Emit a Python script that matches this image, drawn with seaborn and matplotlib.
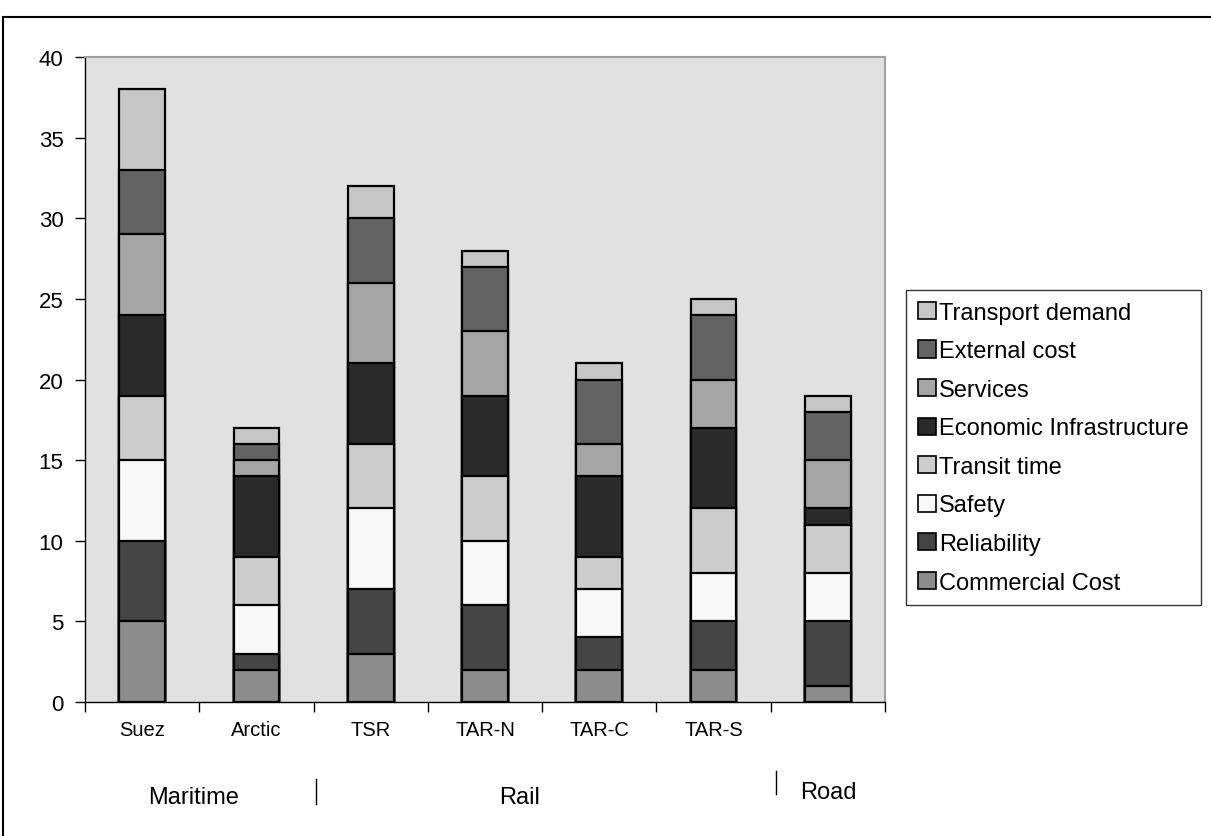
import numpy as np
import pandas as pd
import seaborn as sns
import matplotlib.pyplot as plt
from matplotlib.patches import Patch, Rectangle
from matplotlib.lines import Line2D

plt.rcParams['font.family'] = ['Liberation Sans', 'DejaVu Sans']


# DATA
routes = ['Suez', 'Arctic', 'TSR', 'TAR-N', 'TAR-C', 'TAR-S', 'Road']
route_labels = ['Suez', 'Arctic', 'TSR', 'TAR-N', 'TAR-C', 'TAR-S', '']
criteria = ['Commercial Cost', 'Reliability', 'Safety', 'Transit time',
            'Economic Infrastructure', 'Services', 'External cost', 'Transport demand']

commercial_cost = [5, 2, 3, 2, 2, 2, 1]
reliability = [5, 1, 4, 4, 2, 3, 4]
safety = [5, 3, 5, 4, 3, 3, 3]
transit_time = [4, 3, 4, 4, 2, 4, 3]
economic_infra = [5, 5, 5, 5, 5, 5, 1]
services = [5, 1, 5, 4, 2, 3, 3]
external_cost = [4, 1, 4, 4, 4, 4, 3]
transport_demand = [5, 1, 2, 1, 1, 1, 1]

groups = ['Maritime', 'Rail', 'Road']

colors = ['#8c8c8c', '#444444', '#f8f8f8', '#cccccc',
          '#2a2a2a', '#a5a5a5', '#636363', '#c6c6c6']


# TABLE + CUMULATIVE TOTALS (for stacking)
df = pd.DataFrame({
    'Commercial Cost': commercial_cost,
    'Reliability': reliability,
    'Safety': safety,
    'Transit time': transit_time,
    'Economic Infrastructure': economic_infra,
    'Services': services,
    'External cost': external_cost,
    'Transport demand': transport_demand,
}, index=routes)
cum = df[criteria].cumsum(axis=1)


# FIGURE
fig = plt.figure(figsize=(12.11, 8.37), dpi=100)
ax = fig.add_axes([0.0702, 0.1601, 0.6606, 0.7706])
ax.set_facecolor('#e1e1e1')

# draw tallest stack first, then overlay the smaller cumulative bars
for crit, col in reversed(list(zip(criteria, colors))):
    sns.barplot(x=routes, y=cum[crit].values, order=routes, color=col,
                width=0.4, edgecolor='black', linewidth=1.6,
                saturation=1, ax=ax)

ax.set_ylim(0, 40)
ax.set_xlim(-0.5, len(routes) - 0.5)
ax.set_yticks(np.arange(0, 41, 5))
ax.tick_params(axis='y', labelsize=16, length=7, width=1, pad=8.5)
ax.set_xticks(np.arange(-0.5, len(routes), 1))
ax.set_xticklabels([])
ax.tick_params(axis='x', length=7, width=1)
ax.set_xticks(np.arange(len(routes)), minor=True)
ax.set_xticklabels(route_labels, minor=True, fontsize=14.5)
ax.tick_params(axis='x', which='minor', length=0, pad=13)
ax.set_xlabel('')
ax.set_ylabel('')

for s in ['top', 'right']:
    ax.spines[s].set_color('#a0a0a0')
    ax.spines[s].set_linewidth(1.5)
for s in ['left', 'bottom']:
    ax.spines[s].set_color('black')
    ax.spines[s].set_linewidth(1)

# group labels under the categories
group_x = [194 / 1211, 520 / 1211, 828 / 1211]
group_y = [1 - 798 / 837, 1 - 798 / 837, 1 - 793 / 837]
for g, gx, gy in zip(groups, group_x, group_y):
    fig.text(gx, gy, g, ha='center', va='center', fontsize=17)
fig.add_artist(Line2D([316 / 1211, 316 / 1211], [1 - 780 / 837, 1 - 805 / 837],
                      color='black', lw=1))
fig.add_artist(Line2D([776 / 1211, 776 / 1211], [1 - 772 / 837, 1 - 795 / 837],
                      color='black', lw=1))

# legend
handles = [Patch(facecolor=c, edgecolor='black', linewidth=1.2, label=l)
           for l, c in zip(criteria, colors)][::-1]
leg = fig.legend(handles=handles, loc='upper left',
                 bbox_to_anchor=(906 / 1211, 1 - 291 / 837),
                 fontsize=17, frameon=True, fancybox=False,
                 edgecolor='black', handlelength=0.75, handleheight=0.75,
                 handletextpad=0.15, labelspacing=0.7, borderpad=0.5,
                 borderaxespad=0)
leg.get_frame().set_linewidth(1)

# outer border of the chart area
fig.add_artist(Rectangle((3 / 1211, -0.05), 1.1, 1 - 18 / 837 + 0.05,
                         transform=fig.transFigure, fill=False,
                         edgecolor='black', linewidth=1.5, clip_on=False))

fig.savefig('out.png', dpi=100)
